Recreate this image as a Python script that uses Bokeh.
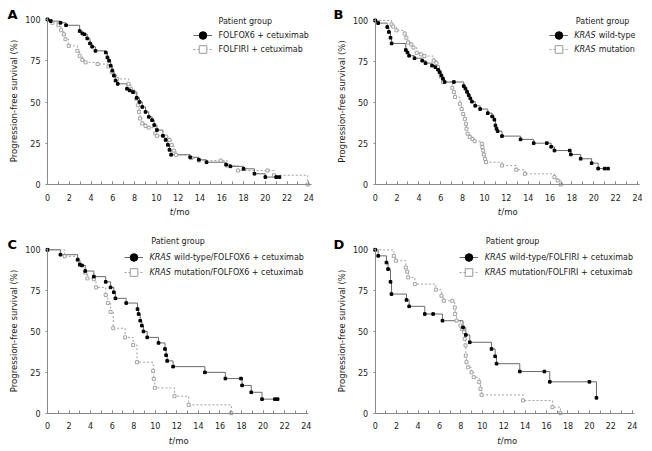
from bokeh.plotting import figure
from bokeh.layouts import row, column
from bokeh.models import FixedTicker, Label, Legend, LegendItem, Range1d, ColumnDataSource
from bokeh.embed import file_html
from bokeh.resources import INLINE

FONT = "DejaVu Sans"
TXT = "#1a1a1a"

# ---------------- data ----------------
x_ticks = [0, 2, 4, 6, 8, 10, 12, 14, 16, 18, 20, 22, 24]
x_minor = list(range(0, 25))
y_ticks = [0, 25, 50, 75, 100]
y_label = "Progression-free survival (%)"
legend_title = "Patient group"

# legend labels: (italic part, normal part)
A_labels = [("", "FOLFOX6 + cetuximab"), ("", "FOLFIRI + cetuximab")]
A_FOLFOX6_t = [0.3, 1.2, 1.7, 2.95, 3.2, 3.4, 3.65, 3.9, 4.1, 4.4, 5.35, 5.5, 5.65, 5.8, 5.95, 6.1, 6.25, 6.45,
               7.3, 7.55, 7.85, 8.2, 8.45, 8.7, 9.0, 9.3, 9.6, 9.8, 10.05, 10.6, 10.85, 11.05, 11.2, 11.35,
               13.1, 13.9, 14.6, 16.4, 16.8, 18.0, 19.0, 20.0, 21.0, 21.3]
A_FOLFOX6_s = [99, 98, 96.5, 93, 91.5, 91, 88.5, 85.5, 83.5, 81, 80, 77, 75, 72, 69, 66, 63, 61,
               58, 57, 56, 52.5, 50, 47, 44, 41, 39, 36, 33, 29.5, 27, 24, 21, 18,
               16.5, 15, 13.5, 12, 11, 9.5, 6.5, 4.5, 4.5, 4.5]
A_FOLFIRI_t = [0.45, 1.0, 1.25, 1.5, 1.65, 1.95, 2.75, 2.95, 3.2, 3.5, 4.6, 5.6, 5.9, 6.15, 6.4, 7.45, 7.65, 7.95,
               8.15, 8.3, 8.4, 8.5, 8.7, 9.0, 9.3, 9.9, 10.05, 10.9, 11.2, 11.4, 11.6, 11.8,
               13.2, 13.9, 15.9, 16.5, 17.5, 20.2, 20.8, 23.9]
A_FOLFIRI_s = [98, 96.5, 93.5, 91, 88, 84, 81, 78, 75.5, 74, 73, 71.5, 68, 66, 64, 61, 58, 56,
               52, 48, 44, 40, 37, 35.5, 34.5, 31, 29.5, 29, 27, 24, 20.5, 18,
               16, 14.5, 14.5, 11.5, 8.5, 8.5, 5.6, 0]

B_labels = [("KRAS", "wild-type"), ("KRAS", "mutation")]
B_WT_t = [0.27, 1.1, 1.25, 1.4, 1.5, 2.8, 2.95, 3.1, 3.6, 4.3, 4.6, 5.2, 5.5, 5.75, 5.9, 6.05, 6.2, 6.35,
          7.2, 8.1, 8.25, 8.4, 8.55, 8.7, 8.85, 9.15, 9.6, 10.3, 10.7, 10.9, 11.0, 11.1, 11.2, 11.6,
          13.3, 14.5, 15.7, 16.1, 16.4, 17.8, 17.9, 18.8, 19.8, 20.4, 21.0, 21.3]
B_WT_s = [98.4, 96, 93, 89.5, 86, 82, 80.5, 78.5, 77, 75.5, 74, 72.5, 71.5, 70, 68.5, 66.5, 64.5, 62.5,
          62.5, 60, 58.5, 56.5, 54.5, 52.5, 50.5, 48, 46, 43.5, 41.5, 39.5, 36, 34, 32.5, 29.5,
          27.5, 25.2, 25.2, 23, 20.7, 20.7, 18.3, 15.7, 13, 9.7, 9.7, 9.7]
B_MUT_t = [1.5, 1.65, 1.95, 2.7, 2.85, 3.0, 3.3, 3.5, 3.8, 4.2, 4.5, 5.35, 5.6, 5.75, 5.9, 6.0, 6.2,
           7.05, 7.2, 7.3, 7.75, 7.9, 8.05, 8.2, 8.3, 8.35, 8.45, 8.65, 8.9, 9.1,
           9.75, 9.8, 9.88, 9.95, 10.05, 10.15, 11.6, 12.9, 13.7, 16.4, 16.7, 17.0]
B_MUT_s = [97.6, 96.3, 94, 92, 89.5, 86.6, 85.4, 83.5, 80.3, 79.3, 78.3, 75.6, 74, 71.5, 68.4, 65.8, 62.4,
           59, 56.3, 53.3, 49.2, 46, 43, 40, 37, 34, 31, 29, 27.8, 26.4,
           24.8, 22.8, 20.7, 18.3, 15.6, 13.6, 11.6, 9, 6.5, 4.5, 2.4, 0]

C_labels = [("KRAS", "wild-type/FOLFOX6 + cetuximab"), ("KRAS", "mutation/FOLFOX6 + cetuximab")]
C_WT_t = [1.2, 2.8, 3.0, 3.2, 3.5, 4.3, 5.4, 5.85, 6.15, 6.3, 7.3, 8.35, 8.45, 8.6, 8.75, 8.9, 9.25,
          10.3, 10.9, 11.0, 11.1, 11.65, 14.6, 16.5, 17.95, 18.05, 18.9, 19.9, 21.1, 21.35]
C_WT_s = [97, 94, 91, 90.4, 87, 83.6, 80.4, 77, 74, 70.3, 67.4, 63.7, 60.7, 56.6, 53.6, 50, 46.4,
          43, 39.3, 35.5, 32, 28.5, 25, 21.2, 21.2, 17, 12.8, 8.6, 8.6, 8.6]
C_MUT_t = [1.6, 2.8, 3.0, 3.5, 3.7, 4.3, 4.5, 5.4, 5.6, 5.85, 6.1, 7.2, 7.95, 8.3, 9.8, 9.86, 9.96,
           11.78, 13.1, 17.05]
C_MUT_s = [96, 93.5, 90.6, 86, 82.5, 82, 77, 72.3, 67.4, 62, 52, 46.4, 41.7, 31.2, 25.9, 21, 15.5,
           10.4, 5.1, 0]

D_labels = [("KRAS", "wild-type/FOLFIRI + cetuximab"), ("KRAS", "mutation/FOLFIRI + cetuximab")]
D_WT_t = [0.28, 1.05, 1.2, 1.43, 1.52, 2.92, 3.17, 4.63, 5.41, 6.28, 8.2, 8.46, 8.83, 10.86, 11.2, 11.33,
          13.5, 15.8, 16.3, 20.0, 20.66]
D_WT_s = [96.3, 92.2, 88.2, 80.4, 72.9, 69.3, 65.4, 60.7, 60.7, 56.6, 52.5, 47.9, 43.4, 39.3, 34.8, 30.3,
          25.5, 25.5, 19.2, 19.2, 9.4]
D_MUT_t = [1.74, 1.93, 2.86, 2.99, 3.08, 3.7, 5.66, 6.19, 6.4, 7.2, 7.43, 7.46, 7.6, 7.96, 8.12, 8.3, 8.35,
           8.43, 8.46, 8.52, 8.68, 8.99, 9.2, 9.71, 9.83, 9.93, 13.8, 16.55, 17.3]
D_MUT_s = [96.3, 93.3, 89.2, 86.6, 83.1, 79, 75.6, 71.9, 68.8, 68.8, 64.7, 60.7, 56.6, 53.6, 51.5, 49.5, 45.5,
           41.5, 35.2, 31.2, 28.1, 25, 22, 19, 14.9, 11.2, 7.8, 3.7, 0]

# ---------------- layout (page pixels) ----------------
# fig_left, fig_top, W, H, x-origin px, px per month, y-origin px, px per percent
GEOM = {
    "A": (0, 0, 326, 225, 47.0, 10.89, 184.0, 1.65),
    "B": (326, 0, 324, 225, 374.7, 10.93, 184.0, 1.64),
    "C": (0, 225, 326, 224, 47.0, 10.78, 412.7, 1.634),
    "D": (326, 225, 324, 224, 374.7, 10.71, 412.7, 1.634),
}
DECO = {
    "A": dict(letter=(7, 14), title=(218, 20.7), legend=(193, 34.7), xlab=(172.5, 211)),
    "B": dict(letter=(333, 14), title=(575.3, 20.7), legend=(548.7, 34.7), xlab=(500.5, 211)),
    "C": dict(letter=(7, 244), title=(150.7, 240.7), legend=(124, 257.3), xlab=(171.5, 440)),
    "D": dict(letter=(333, 244), title=(485.3, 240.7), legend=(459.3, 257.3), xlab=(500, 440)),
}
ROW_PITCH = 14.6

LINE1 = "#6a6a6a"
LINE2 = "#a0a0a0"
MARK2 = "#9a9a9a"
AXIS = "#8a8a8a"


def make_panel(key, t1, s1, t2, s2, labels):
    fl, ft, W, H, ox, kx, oy, ky = GEOM[key]

    def dx(px):
        return (px - ox) / kx

    def dy(py):
        return (oy - py) / ky

    p = figure(width=W, height=H, x_range=Range1d(dx(fl), dx(fl + W)), y_range=Range1d(dy(ft + H), dy(ft)),
               output_backend="svg", toolbar_location=None,
               min_border_left=0, min_border_right=0, min_border_top=0, min_border_bottom=0)
    p.outline_line_color = None
    p.grid.visible = False
    p.background_fill_color = "white"
    p.border_fill_color = "white"
    # off-screen range used only so that legend key glyphs exist without being drawn in the plot
    p.extra_x_ranges = {"keys": Range1d(1000, 1001)}

    p.xaxis.fixed_location = 0
    p.yaxis.fixed_location = 0
    p.xaxis.bounds = (0, 24.2)
    p.yaxis.bounds = (0, 101)
    p.xaxis.ticker = FixedTicker(ticks=x_ticks, minor_ticks=x_minor)
    p.yaxis.ticker = FixedTicker(ticks=y_ticks)
    for ax in p.axis:
        ax.axis_line_color = AXIS
        ax.major_tick_line_color = AXIS
        ax.minor_tick_line_color = AXIS
        ax.major_label_text_font = FONT
        ax.major_label_text_font_size = "8px"
        ax.major_label_text_color = TXT
    p.xaxis.major_tick_in = 3
    p.xaxis.major_tick_out = 0
    p.xaxis.minor_tick_in = 3
    p.xaxis.minor_tick_out = 0
    p.xaxis.major_label_standoff = 9
    p.yaxis.major_tick_in = 0
    p.yaxis.major_tick_out = 2
    p.yaxis.minor_tick_line_color = None
    p.yaxis.major_label_standoff = 5
    p.yaxis.axis_label = y_label
    p.yaxis.axis_label_text_font = FONT
    p.yaxis.axis_label_text_font_size = "8.5px"
    p.yaxis.axis_label_text_font_style = "normal"
    p.yaxis.axis_label_text_color = TXT
    p.yaxis.axis_label_standoff = 3

    src1 = ColumnDataSource(dict(t=[0.0] + t1, s=[100.0] + s1))
    src2 = ColumnDataSource(dict(t=[0.0] + t2, s=[100.0] + s2))

    r2 = p.step("t", "s", source=src2, mode="after", line_color=LINE2, line_width=1, line_dash="2 2")
    r1 = p.step("t", "s", source=src1, mode="after", line_color=LINE1, line_width=1)
    p.scatter("t", "s", source=src2, marker="square", size=3, line_color=MARK2, fill_color="white",
              line_width=0.9)
    p.scatter("t", "s", source=src1, marker="square", size=2.6, line_color="black", fill_color="black")

    # legend key markers: mapped onto the off-screen range, so they appear only in the legend
    k1 = p.scatter("t", "s", source=src1, marker="circle", fill_color="black", line_color="black",
                   x_range_name="keys")
    k2 = p.scatter("t", "s", source=src2, marker="square", fill_color="white", line_color=MARK2,
                   line_width=1, x_range_name="keys")

    d = DECO[key]
    gx, gy = d["legend"]
    for i, (rline, rkey) in enumerate([(r1, k1), (r2, k2)]):
        cy = gy + i * ROW_PITCH
        leg = Legend(items=[LegendItem(label=" ", renderers=[rline, rkey])],
                     location=(gx - fl, (ft + H) - (cy + 10)),
                     glyph_width=19, glyph_height=20, label_height=20, label_standoff=0,
                     spacing=0, padding=0, margin=0, border_line_color=None,
                     background_fill_alpha=0, label_text_font=FONT, label_text_font_size="8px")
        p.add_layout(leg)

    def lab(text, px, py, size="8px", style="normal", align="left", color=TXT):
        p.add_layout(Label(x=dx(px), y=dy(py), text=text, text_font=FONT, text_font_size=size,
                           text_font_style=style, text_color=color, text_baseline="middle",
                           text_align=align))

    text_left = gx + 25
    for i, (ital, rest) in enumerate(labels):
        cy = gy + i * ROW_PITCH
        if ital:
            lab(ital, text_left, cy, style="italic")
            lab(rest, text_left + 24.5, cy)
        else:
            lab(rest, text_left, cy)

    tx, ty = d["title"]
    lab(legend_title, tx, ty)
    lx, ly = d["letter"]
    lab(key, lx, ly, size="13px", style="bold", color="black")
    sx, sy = d["xlab"]
    lab("t", sx, sy, size="8.5px", style="italic", align="right")
    lab("/mo", sx + 0.3, sy, size="8.5px")
    return p


pA = make_panel("A", A_FOLFOX6_t, A_FOLFOX6_s, A_FOLFIRI_t, A_FOLFIRI_s, A_labels)
pB = make_panel("B", B_WT_t, B_WT_s, B_MUT_t, B_MUT_s, B_labels)
pC = make_panel("C", C_WT_t, C_WT_s, C_MUT_t, C_MUT_s, C_labels)
pD = make_panel("D", D_WT_t, D_WT_s, D_MUT_t, D_MUT_s, D_labels)

layout = column(row(pA, pB, spacing=0), row(pC, pD, spacing=0), spacing=0)

open("out.html", "w").write(file_html(layout, INLINE))
